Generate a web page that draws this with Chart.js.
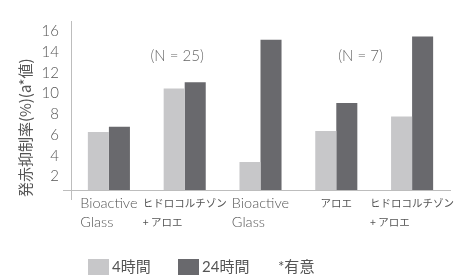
<!DOCTYPE html>
<html>
<head>
<meta charset="utf-8">
<script src="https://cdn.jsdelivr.net/npm/chart.js@4.4.1/dist/chart.umd.min.js"></script>
<style>
  html, body { margin: 0; padding: 0; background: #fff; }
  #wrap { width: 465px; height: 276px; }
</style>
</head>
<body>
<div id="wrap"><canvas id="chart" width="465" height="276"></canvas></div>
<script>
// data
const categories = [
    ["Bioactive", "Glass"],
    ["ヒドロコルチゾン", "+ アロエ"],
    ["Bioactive", "Glass"],
    ["アロエ"],
    ["ヒドロコルチゾン", "+ アロエ"]
];
const hours4 = [6.3, 10.5, 3.4, 6.4, 7.8];
const hours24 = [6.8, 11.1, 15.2, 9.1, 15.5];
const yTicks = [2, 4, 6, 8, 10, 12, 14, 16];
const seriesNames = ["4時間", "24時間"];
const groupNotes = ["(N = 25)", "(N = 7)"];
const noteText = "*有意";
const yTitle = "発赤抑制率(%)(a*値)";

const lightGray = "#c7c7c9";
const darkGray = "#69696d";
const axisColor = "#bdbdbd";
const textColor = "#555";
const latin = "Lato, 'Noto Sans CJK JP', sans-serif";
const cjk = "'Noto Sans CJK JP', sans-serif";

// extra text: x labels, notes, legend, axis title
const extras = {
    id: "extras",
    afterDraw(chart) {
        const ctx = chart.ctx;
        const x = chart.scales.x;
        const y = chart.scales.y;
        ctx.save();

        // small axis overhangs where the axes cross
        ctx.strokeStyle = axisColor;
        ctx.lineWidth = 1;
        ctx.beginPath();
        ctx.moveTo(x.left - 8, Math.round(y.bottom) + 0.5);
        ctx.lineTo(x.left, Math.round(y.bottom) + 0.5);
        ctx.moveTo(Math.round(x.left) + 0.5, y.bottom);
        ctx.lineTo(Math.round(x.left) + 0.5, y.bottom + 10);
        ctx.stroke();

        // category labels, lines left aligned inside a centred block
        ctx.fillStyle = textColor;
        ctx.textBaseline = "middle";
        ctx.textAlign = "left";
        categories.forEach((lines, i) => {
            const fonts = lines.map(l => /[\u3000-\u30ff]/.test(l) ? "10.5px " + cjk : "300 14.5px " + latin);
            let w = 0;
            lines.forEach((l, k) => {
                ctx.font = fonts[k];
                w = Math.max(w, ctx.measureText(l).width);
            });
            const left = x.getPixelForValue(i) - w / 2;
            lines.forEach((l, k) => {
                ctx.font = fonts[k];
                ctx.fillText(l, left, y.bottom + 13 + k * 19);
            });
        });

        // group notes
        ctx.font = "300 15px " + latin;
        ctx.fillStyle = "#666";
        ctx.textAlign = "center";
        ctx.fillText(groupNotes[0], x.getPixelForValue(0.9), y.getPixelForValue(13.6));
        ctx.fillText(groupNotes[1], x.getPixelForValue(3.32), y.getPixelForValue(13.6));

        // legend
        const colors = [lightGray, darkGray];
        const boxX = [88, 178];
        ctx.textAlign = "left";
        ctx.font = "15px " + latin;
        seriesNames.forEach((name, i) => {
            ctx.fillStyle = colors[i];
            ctx.fillRect(boxX[i], 259, 21, 16);
            ctx.fillStyle = textColor;
            ctx.fillText(name, boxX[i] + 24, 267);
        });
        ctx.fillText(noteText, 278, 267);

        // y axis title
        ctx.translate(25, y.getPixelForValue(6.7));
        ctx.rotate(-Math.PI / 2);
        ctx.textAlign = "center";
        ctx.font = "15px " + cjk;
        ctx.fillText(yTitle, 0, 0);
        ctx.restore();
    }
};

new Chart(document.getElementById("chart"), {
    type: "bar",
    data: {
        labels: categories,
        datasets: [
            { label: seriesNames[0], data: hours4, backgroundColor: lightGray },
            { label: seriesNames[1], data: hours24, backgroundColor: darkGray }
        ]
    },
    options: {
        responsive: false,
        animation: false,
        layout: { padding: { top: 4, right: 15, left: 0, bottom: 0 } },
        datasets: { bar: { barPercentage: 1, categoryPercentage: 0.555 } },
        plugins: { legend: { display: false }, tooltip: { enabled: false } },
        scales: {
            x: {
                grid: { display: false, drawTicks: false },
                border: { color: axisColor },
                ticks: { display: false },
                afterFit: s => { s.height = 86; }
            },
            y: {
                min: 0.7,
                max: 17,
                grid: { display: false, drawTicks: false },
                border: { color: axisColor },
                afterBuildTicks: s => { s.ticks = yTicks.map(v => ({ value: v })); },
                ticks: { color: textColor, padding: 12, font: { family: latin, size: 15, weight: 300 } },
                afterFit: s => { s.width = 71; }
            }
        }
    },
    plugins: [extras]
});
</script>
</body>
</html>
